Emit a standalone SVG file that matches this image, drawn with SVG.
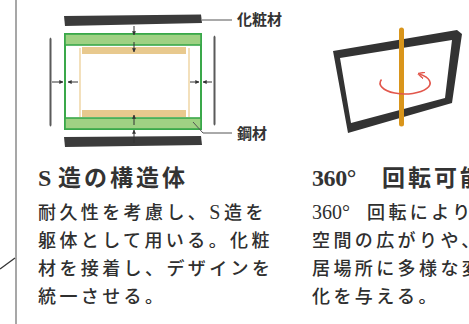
<svg xmlns="http://www.w3.org/2000/svg" width="469" height="324" viewBox="0 0 469 324">
  <defs>
    <style>
      .bar { fill: #3b3b3b; }
      .side { fill: #5a5a5a; }
      .steel { fill: #9fd183; stroke: #3aa84a; stroke-width: 1.6; }
      .steel-edge { fill: none; stroke: #3aa84a; stroke-width: 2; }
      .tan { fill: #e8c98e; }
      .tan-edge { stroke: #f0d9ab; stroke-width: 1.6; }
      .push { stroke: #333; stroke-width: 1; fill: none; }
      .leader { stroke: #555; stroke-width: 1; fill: none; }
      .label { font-family: "Liberation Serif", "Noto Sans CJK JP", serif; font-size: 15px; font-weight: bold; fill: #333; }
      .title { font-family: "Liberation Serif", "Noto Sans CJK JP", serif; font-size: 23px; font-weight: bold; fill: #333; letter-spacing: 3px; }
      .body { font-family: "Liberation Serif", "Noto Sans CJK JP", serif; font-size: 18px; font-weight: 500; fill: #2f2f2f; letter-spacing: 3.4px; }
      .lat { letter-spacing: 0; }
      .title .lat { font-size: 24px; letter-spacing: -0.4px; }
      .body .lat { font-size: 20px; }
    </style>
    <marker id="head" viewBox="0 0 6 6" refX="5.5" refY="3" markerWidth="4" markerHeight="4" orient="auto" markerUnits="userSpaceOnUse">
      <path d="M0,0 L6,3 L0,6 Z" fill="#333"/>
    </marker>
    <marker id="spin" viewBox="0 0 8 8" refX="6" refY="4" markerWidth="7" markerHeight="7" orient="auto" markerUnits="userSpaceOnUse">
      <path d="M0,0 L8,4 L0,8" fill="none" stroke="#e2574c" stroke-width="1.6"/>
    </marker>
  </defs>

  <rect width="469" height="324" fill="#ffffff"/>

  <!-- page rule and corner stroke -->
  <line x1="16" y1="0" x2="16" y2="324" stroke="#8a8a8a" stroke-width="1.5"/>
  <line x1="0" y1="269" x2="15" y2="258" stroke="#333" stroke-width="1.3"/>

  <!-- S-frame section -->
  <g id="s-frame">
    <polygon class="bar" points="64,16 201,14.5 202,23 65,26"/>
    <polygon class="bar" points="64,137 201,136 202,145 65,147"/>
    <path class="side" d="M49.5,39 Q50.5,36 51.5,39 L51.5,125 Q50.5,128 49.5,125 Z"/>
    <path class="side" d="M213.5,37 Q214.5,34 215.5,37 L215.5,124 Q214.5,127 213.5,124 Z"/>
    <rect class="steel-edge" x="65" y="34" width="136" height="95"/>
    <rect class="steel" x="65" y="34" width="136" height="11"/>
    <rect class="steel" x="65" y="118" width="136" height="11"/>
    <rect class="tan" x="82" y="47" width="104" height="7"/>
    <rect class="tan" x="82" y="110" width="104" height="7"/>
    <line class="tan-edge" x1="80" y1="48" x2="80" y2="117"/>
    <line class="tan-edge" x1="189" y1="48" x2="189" y2="117"/>
  </g>

  <!-- clamping arrows and leaders -->
  <g id="connectors">
    <line class="push" x1="134" y1="26" x2="134" y2="35" marker-end="url(#head)"/>
    <line class="push" x1="134" y1="42" x2="134" y2="52" marker-end="url(#head)"/>
    <line class="push" x1="134" y1="125" x2="134" y2="115" marker-end="url(#head)"/>
    <line class="push" x1="134" y1="143" x2="134" y2="130" marker-end="url(#head)"/>
    <line class="push" x1="52" y1="82" x2="63" y2="82" marker-end="url(#head)"/>
    <line class="push" x1="78" y1="82" x2="68" y2="82" marker-end="url(#head)"/>
    <line class="push" x1="190" y1="82" x2="199" y2="82" marker-end="url(#head)"/>
    <line class="push" x1="212" y1="82" x2="203" y2="82" marker-end="url(#head)"/>
    <polyline class="leader" points="202,20 232,20"/>
    <polyline class="leader" points="193,122 203,133 232,133"/>
  </g>

  <g id="label-finish">
    <text class="label" x="237" y="25">化粧材</text>
  </g>
  <g id="label-steel">
    <text class="label" x="237" y="139">鋼材</text>
  </g>

  <!-- rotating frame -->
  <g id="rotating-frame">
    <path fill="#333" fill-rule="evenodd" d="M333,51 L457,30 L462,34 L452,103 L348,133 Z M340,58 L452,40 L445,98 L351,123 Z"/>
    <line x1="401.5" y1="30" x2="401.5" y2="124" stroke="#d9951b" stroke-width="5" stroke-linecap="round"/>
    <path d="M381.5,79.4 A25,11 0 1 0 419.3,74" fill="none" stroke="#e2574c" stroke-width="1.6" marker-end="url(#spin)"/>
  </g>

  <!-- captions -->
  <g id="caption-s-frame">
    <text class="title" x="38" y="186"><tspan class="lat">S </tspan><tspan x="58">造の構造体</tspan></text>
    <text class="body" x="38" y="219">耐久性を考慮し、<tspan class="lat">S </tspan><tspan x="224">造を</tspan></text>
    <text class="body" x="38" y="247">躯体として用いる。化粧</text>
    <text class="body" x="38" y="275">材を接着し、デザインを</text>
    <text class="body" x="38" y="303">統一させる。</text>
  </g>
  <g id="caption-rotation">
    <text class="title" x="312" y="186"><tspan class="lat">360° </tspan><tspan x="382">回転可能</tspan></text>
    <text class="body" x="312" y="219"><tspan class="lat">360° </tspan><tspan x="367">回転により</tspan></text>
    <text class="body" x="312" y="247">空間の広がりや、</text>
    <text class="body" x="312" y="275">居場所に多様な変</text>
    <text class="body" x="312" y="303">化を与える。</text>
  </g>
</svg>
